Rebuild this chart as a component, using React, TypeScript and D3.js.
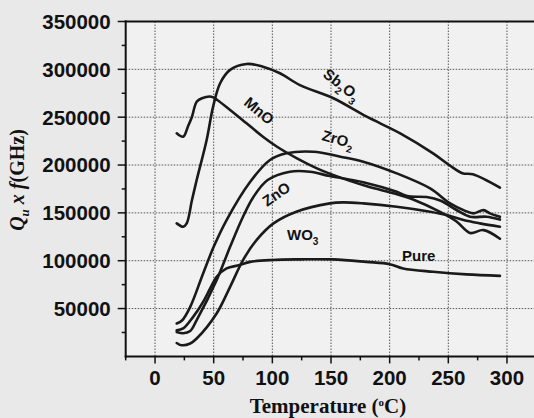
import * as d3 from 'd3';

type Pt = [number, number];

// temperature (°C), Qu x f (GHz)
const pure: Pt[] = [
  [18.5, 27400], [24, 29200], [32.5, 41300], [41, 57000], [47, 71000], [52.5, 83200],
  [61, 91900], [72, 95400], [81, 98800], [100, 100800], [123.5, 101400], [152, 101400],
  [180, 98800], [200, 96400], [211.5, 91900], [237, 88400], [265.5, 85700], [294, 84200],
];
const wo3: Pt[] = [
  [18.5, 14000], [22.5, 11700], [30, 13500], [35.5, 18700], [52.5, 44900], [64, 72700],
  [75, 100600], [86.5, 121500], [101, 139000], [120.5, 151200], [149, 159900], [160, 161000],
  [177.5, 159900], [206, 156400], [234.5, 151200], [248.5, 147700], [263, 142500],
  [277, 139000], [294, 135500],
];
const zno: Pt[] = [
  [18.5, 25600], [24, 24200], [30, 26500], [35.5, 37900], [52.5, 79700], [64, 114500],
  [75, 145900], [84, 166800], [96, 184300], [115, 193000], [132, 193000], [149, 188500],
  [177.5, 182000], [206, 172000], [215, 167500], [231.5, 166500], [243, 163000],
  [257, 153000], [268.5, 146000], [282.5, 146000], [294, 143000],
];
const zro2: Pt[] = [
  [18.5, 34400], [23, 37500], [30, 51800], [41, 86700], [50, 114500], [61, 142500],
  [81, 182200], [98, 205200], [112, 212200], [135, 213900], [158, 208700], [177.5, 203500],
  [206, 191300], [234.5, 175600], [251.5, 159900], [263, 152900], [271.5, 149500],
  [280, 152900], [285.5, 149500], [294, 145900],
];
const mno: Pt[] = [
  [18.5, 233200], [24, 229600], [28, 240100], [31.5, 250500], [35.5, 266200], [40, 269800],
  [48, 271400], [53, 268000], [64, 257500], [78, 243600], [92, 229600], [104, 219100],
  [121, 207000], [138, 196500], [150, 190500], [180, 178000], [205, 170000], [220, 164000],
  [243, 151000], [257, 141000], [268.5, 129000], [280, 132000], [294, 123000],
];
const sb2o3: Pt[] = [
  [18.5, 139000], [24, 135500], [27, 139000], [31.5, 163400], [35.5, 184300], [44, 226200],
  [49.5, 261000], [55.5, 285500], [64, 299400], [78, 305600], [92, 302800], [106.5, 295900],
  [123.5, 283500], [152, 269800], [180.5, 250500], [209, 233100], [237, 212200],
  [251, 199800], [262, 191500], [271, 190300], [294, 176300],
];

const xTicks = [0, 50, 100, 150, 200, 250, 300];
const xMinor = [-25, 25, 75, 125, 175, 225, 275, 325];
const yTicks = [50000, 100000, 150000, 200000, 250000, 300000, 350000];
const yMinor = [25000, 75000, 125000, 175000, 225000, 275000, 325000];

const W = 534;
const H = 418;

export default function App() {
  const x = d3.scaleLinear().domain([-25, 325]).range([125.7, 536.3]);
  const y = d3.scaleLinear().domain([0, 350000]).range([356.4, 21.5]);
  const line = d3
    .line<Pt>()
    .x((d) => x(d[0]))
    .y((d) => y(d[1]))
    .curve(d3.curveCatmullRom.alpha(0.5));

  const series = [pure, wo3, zno, zro2, mno, sb2o3];
  const x0 = x(-25);
  const x1 = W;
  const yb = y(0);
  const yt = y(350000);
  const tickFont = { fontFamily: 'Liberation Sans, Arial, sans-serif', fontWeight: 700, fontSize: 20.5 };
  const lblFont = { fontFamily: 'Liberation Sans, Arial, sans-serif', fontWeight: 700, fontSize: 15 };

  return (
    <svg width={W} height={H} style={{ position: 'absolute', left: 0, top: 0 }}>
      <rect width={W} height={H} fill="#e9e9e9" />
      <rect x={x0} y={yt} width={x1 - x0} height={yb - yt} fill="#f1f1f1" />

      {/* grid */}
      {xTicks.map((t) => (
        <line key={'gx' + t} x1={x(t)} x2={x(t)} y1={yt} y2={yb} stroke="#555" strokeWidth={1} strokeDasharray="1.5,1.5" />
      ))}
      {yTicks.slice(0, -1).map((t) => (
        <line key={'gy' + t} x1={x0} x2={x1} y1={y(t)} y2={y(t)} stroke="#555" strokeWidth={1} strokeDasharray="1.5,1.5" />
      ))}

      {/* frame */}
      <line x1={x0} x2={x0} y1={yt - 1} y2={yb + 1} stroke="#111" strokeWidth={2} />
      <line x1={x0 - 1} x2={x1} y1={yb} y2={yb} stroke="#111" strokeWidth={2} />
      <line x1={x0 - 1} x2={x1} y1={yt} y2={yt} stroke="#111" strokeWidth={2} />

      {/* ticks */}
      {yTicks.map((t) => (
        <g key={'ty' + t}>
          <line x1={x0 - 8} x2={x0} y1={y(t)} y2={y(t)} stroke="#111" strokeWidth={1.5} />
          <text x={x0 - 15} y={y(t)} dy="0.36em" textAnchor="end" fill="#111" {...tickFont}>
            {t}
          </text>
        </g>
      ))}
      {yMinor.map((t) => (
        <line key={'my' + t} x1={x0 - 4} x2={x0} y1={y(t)} y2={y(t)} stroke="#111" strokeWidth={1.5} />
      ))}
      {xTicks.map((t) => (
        <g key={'tx' + t}>
          <line x1={x(t)} x2={x(t)} y1={yb} y2={yb + 7} stroke="#111" strokeWidth={1.5} />
          <text x={x(t)} y={385} textAnchor="middle" fill="#111" {...tickFont}>
            {t}
          </text>
        </g>
      ))}
      {xMinor.map((t) => (
        <line key={'mx' + t} x1={x(t)} x2={x(t)} y1={yb} y2={yb + 4} stroke="#111" strokeWidth={1.5} />
      ))}

      {/* curves */}
      {series.map((s, i) => (
        <path key={i} d={line(s) ?? ''} fill="none" stroke="#1a1a1a" strokeWidth={2.6} strokeLinejoin="round" strokeLinecap="round" />
      ))}

      {/* curve labels */}
      <text transform="translate(322,76) rotate(38)" fill="#111" {...lblFont}>
        Sb<tspan dy="5" fontSize="10">2</tspan>
        <tspan dy="-5">O</tspan>
        <tspan dy="5" fontSize="10">3</tspan>
      </text>
      <text transform="translate(243,104) rotate(40)" fill="#111" {...lblFont}>
        MnO
      </text>
      <text transform="translate(321,140) rotate(15)" fill="#111" {...lblFont}>
        ZrO<tspan dy="5" fontSize="10">2</tspan>
      </text>
      <text transform="translate(267,207) rotate(-35)" fill="#111" {...lblFont}>
        ZnO
      </text>
      <text x={287} y={240} fill="#111" {...lblFont}>
        WO<tspan dy="5" fontSize="10">3</tspan>
      </text>
      <text x={402} y={261} fill="#111" {...lblFont}>
        Pure
      </text>

      {/* axis titles */}
      <text
        transform="translate(24,180) rotate(-90)"
        textAnchor="middle"
        fill="#111"
        fontFamily="Liberation Serif, Times New Roman, serif"
        fontWeight={700}
        fontSize={20}
      >
        <tspan fontStyle="italic">Q</tspan>
        <tspan dy="5" fontSize="13" fontStyle="italic">u</tspan>
        <tspan dy="-5" fontStyle="italic"> x f</tspan>
        <tspan>(GHz)</tspan>
      </text>
      <text
        x={328}
        y={413}
        textAnchor="middle"
        fill="#111"
        fontFamily="Liberation Serif, Times New Roman, serif"
        fontWeight={700}
        fontSize={21}
      >
        Temperature (<tspan dy="-7" fontSize="11">o</tspan>
        <tspan dy="7">C)</tspan>
      </text>
    </svg>
  );
}
